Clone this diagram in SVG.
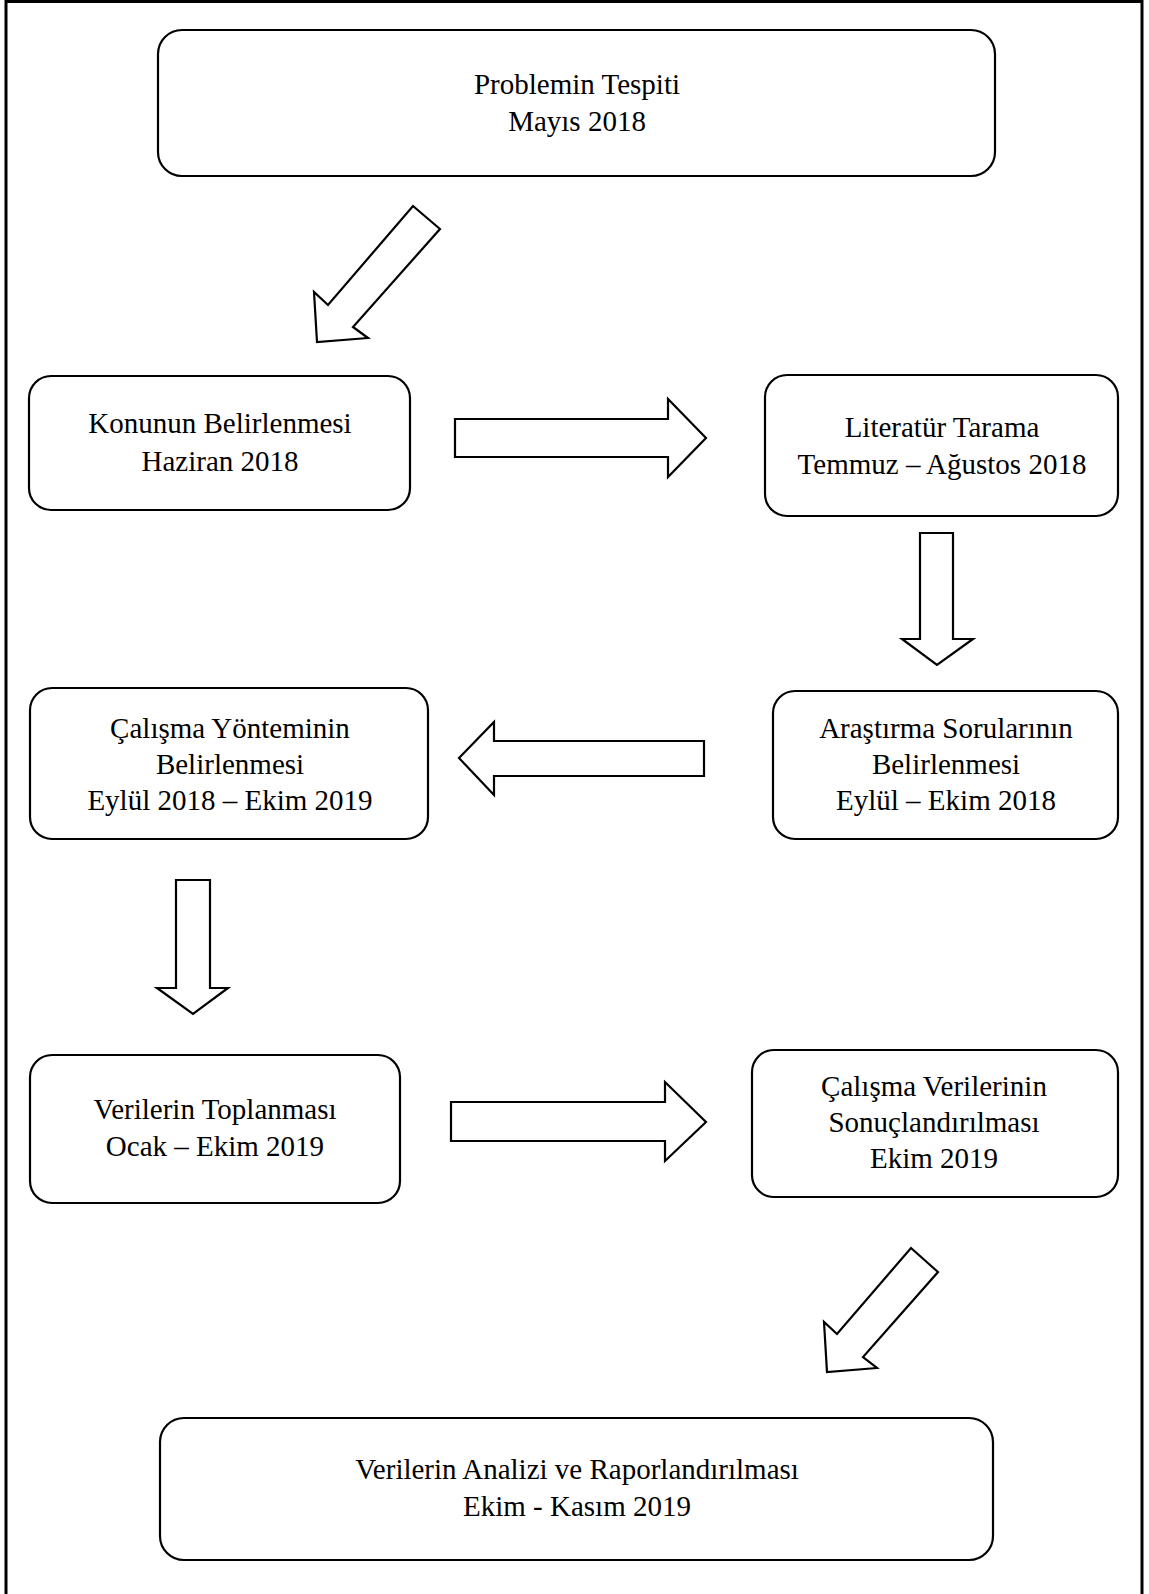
<svg xmlns="http://www.w3.org/2000/svg" width="1149" height="1594" viewBox="0 0 1149 1594">
<style>
.box{fill:#fff;stroke:#000;stroke-width:2.2}
.arr{fill:#fff;stroke:#000;stroke-width:2.2;stroke-linejoin:miter}
text{font-family:"Liberation Serif","Times New Roman",serif;font-size:29px;fill:#000;text-anchor:middle}
</style>
<rect x="0" y="0" width="1149" height="1594" fill="#fff"/>
<rect x="6" y="1.5" width="1136" height="1610" fill="none" stroke="#000" stroke-width="3"/>
<g id="connectors">
<polygon class="arr" points="413,206 440,229 353,327 368,338 317,342 314,292 328,305"/>
<polygon class="arr" points="455,419 668,419 668,399 706,438 668,477 668,457 455,457"/>
<polygon class="arr" points="920,533 953,533 953,639 973,639 937,665 902,639 920,639"/>
<polygon class="arr" points="704,741 494,741 494,722 459,758 494,795 494,776 704,776"/>
<polygon class="arr" points="176,880 210,880 210,988 228,988 193,1014 157,988 176,988"/>
<polygon class="arr" points="451,1102 665,1102 665,1082 706,1122 665,1161 665,1141 451,1141"/>
<polygon class="arr" points="911,1248 938,1272 863,1357 877,1368 827,1372 824,1322 837,1334"/>
</g>
<g id="n1"><rect class="box" x="158" y="30" width="837" height="146" rx="24"/>
<text x="577" y="94">Problemin Tespiti</text><text x="577" y="131">Mayıs 2018</text></g>
<g id="n2"><rect class="box" x="29" y="376" width="381" height="134" rx="22"/>
<text x="220" y="433">Konunun Belirlenmesi</text><text x="220" y="471">Haziran 2018</text></g>
<g id="n3"><rect class="box" x="765" y="375" width="353" height="141" rx="22"/>
<text x="942" y="437">Literatür Tarama</text><text x="942" y="474">Temmuz – Ağustos 2018</text></g>
<g id="n4"><rect class="box" x="773" y="691" width="345" height="148" rx="22"/>
<text x="946" y="738">Araştırma Sorularının</text><text x="946" y="774">Belirlenmesi</text><text x="946" y="810">Eylül – Ekim 2018</text></g>
<g id="n5"><rect class="box" x="30" y="688" width="398" height="151" rx="22"/>
<text x="230" y="738">Çalışma Yönteminin</text><text x="230" y="774">Belirlenmesi</text><text x="230" y="810">Eylül 2018 – Ekim 2019</text></g>
<g id="n6"><rect class="box" x="30" y="1055" width="370" height="148" rx="22"/>
<text x="215" y="1119">Verilerin Toplanması</text><text x="215" y="1156">Ocak – Ekim 2019</text></g>
<g id="n7"><rect class="box" x="752" y="1050" width="366" height="147" rx="22"/>
<text x="934" y="1096">Çalışma Verilerinin</text><text x="934" y="1132">Sonuçlandırılması</text><text x="934" y="1168">Ekim 2019</text></g>
<g id="n8"><rect class="box" x="160" y="1418" width="833" height="142" rx="24"/>
<text x="577" y="1479">Verilerin Analizi ve Raporlandırılması</text><text x="577" y="1516">Ekim - Kasım 2019</text></g>
</svg>
